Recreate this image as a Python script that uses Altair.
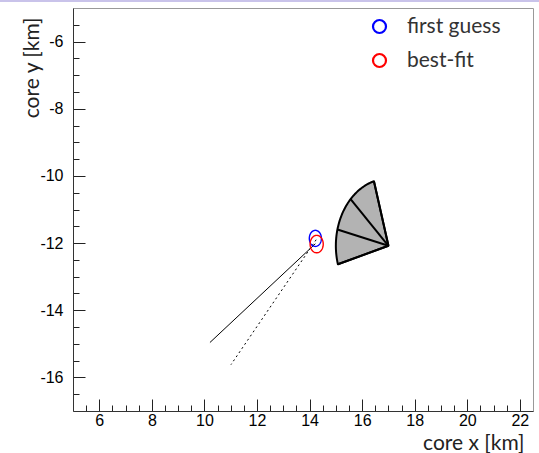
import altair as alt
import numpy as np
import pandas as pd

# ---- axis extents and ticks ----
x_domain = [5, 22.5]
y_domain = [-17, -5]
x_major_ticks = [6, 8, 10, 12, 14, 16, 18, 20, 22]
y_major_ticks = [-16, -14, -12, -10, -8, -6]
x_minor_ticks = [5.5 + 0.5 * i for i in range(34)]
y_minor_ticks = [-16.5 + 0.5 * i for i in range(23)]

# ---- wedge (gray fan) ----
wedge_apex_x = 17.0
wedge_apex_y = -12.08
wedge_radius = 2.0
wedge_edge_angles = [106, 136, 166, 196]  # degrees

# ---- core position fits ----
fit_labels = ["first guess", "best-fit"]
fit_colors = ["#0000ff", "#ff0000"]
fit_center_x = [14.22, 14.27]
fit_center_y = [-11.86, -12.03]
fit_radius_x = [0.23, 0.25]
fit_radius_y = [0.24, 0.26]

# ---- shower axis projections ----
track_start_x = [14.22, 14.25]
track_start_y = [-12.02, -11.90]
track_end_x = [10.21, 11.01]
track_end_y = [-14.96, -15.62]

# ---------------- derived tables ----------------
a0, a1 = np.radians(wedge_edge_angles[0]), np.radians(wedge_edge_angles[-1])
ts = np.linspace(a0, a1, 61)
wedge_df = pd.DataFrame({
    "x": [wedge_apex_x] + list(wedge_apex_x + wedge_radius * np.cos(ts)),
    "y": [wedge_apex_y] + list(wedge_apex_y + wedge_radius * np.sin(ts)),
})
wedge_df["i"] = range(len(wedge_df))

spokes_df = pd.DataFrame({
    "x": [wedge_apex_x] * len(wedge_edge_angles),
    "y": [wedge_apex_y] * len(wedge_edge_angles),
    "x2": [wedge_apex_x + wedge_radius * np.cos(np.radians(a)) for a in wedge_edge_angles],
    "y2": [wedge_apex_y + wedge_radius * np.sin(np.radians(a)) for a in wedge_edge_angles],
})

rows = []
tt = np.linspace(0, 2 * np.pi, 72, endpoint=False)
for k, lab in enumerate(fit_labels):
    for j, t in enumerate(tt):
        rows.append({"label": lab, "i": j,
                     "x": fit_center_x[k] + fit_radius_x[k] * np.cos(t),
                     "y": fit_center_y[k] + fit_radius_y[k] * np.sin(t)})
ell_df = pd.DataFrame(rows)

track_df = pd.DataFrame({"x": track_start_x, "y": track_start_y,
                         "x2": track_end_x, "y2": track_end_y})

# ---------------- scales / axes ----------------
xs = alt.Scale(domain=x_domain, nice=False, zero=False)
ys = alt.Scale(domain=y_domain, nice=False, zero=False)

TICK_FONT = "Liberation Sans"
TITLE_FONT = "Lato"

x_major_axis = alt.Axis(
    orient="bottom", values=x_major_ticks, offset=-12, tickSize=12, tickColor="#222",
    tickWidth=1, domain=False, grid=False, labelFont=TICK_FONT, labelFontSize=16,
    labelColor="#000", labelPadding=1, labelExpr="datum.value + ''",
    title="core x [km]", titleFont=TITLE_FONT, titleFontSize=21, titleFontWeight="normal",
    titleColor="#222", titleAnchor="end", titleAlign="right", titleBaseline="alphabetic",
    titleX=451, titleY=50)
y_major_axis = alt.Axis(
    orient="left", values=y_major_ticks, offset=-12, tickSize=12, tickColor="#222",
    tickWidth=1, domain=False, grid=False, labelFont=TICK_FONT, labelFontSize=16,
    labelColor="#000", labelPadding=10, labelExpr="datum.value + ''",
    title="core y [km]", titleFont=TITLE_FONT, titleFontSize=21, titleFontWeight="normal",
    titleColor="#222", titleAngle=270, titleAnchor="end", titleAlign="right",
    titleBaseline="middle", titleX=-53, titleY=9)
x_minor_axis = alt.Axis(
    orient="bottom", values=x_minor_ticks, offset=-6, tickSize=6, tickColor="#222",
    tickWidth=1, domain=False, grid=False, labels=False, title=None)
y_minor_axis = alt.Axis(
    orient="left", values=y_minor_ticks, offset=-6, tickSize=6, tickColor="#222",
    tickWidth=1, domain=False, grid=False, labels=False, title=None)
x_line_axis = alt.Axis(orient="bottom", ticks=False, labels=False, domain=True,
                       domainColor="#333", domainWidth=1, grid=False, title=None)
y_line_axis = alt.Axis(orient="left", ticks=False, labels=False, domain=True,
                       domainColor="#333", domainWidth=1, grid=False, title=None)

wedge = alt.Chart(wedge_df).mark_line(
    fill="#b3b3b3", stroke="black", strokeWidth=2, interpolate="linear-closed",
    strokeJoin="round").encode(
    x=alt.X("x:Q", scale=xs, axis=x_major_axis),
    y=alt.Y("y:Q", scale=ys, axis=y_major_axis),
    order=alt.Order("i:Q"))

spokes = alt.Chart(spokes_df).mark_rule(color="black", strokeWidth=2).encode(
    x=alt.X("x:Q", scale=xs, axis=x_minor_axis),
    y=alt.Y("y:Q", scale=ys, axis=y_minor_axis),
    x2="x2:Q", y2="y2:Q")

solid = alt.Chart(track_df.iloc[[0]]).mark_rule(color="black", strokeWidth=1).encode(
    x=alt.X("x:Q", scale=xs, axis=x_line_axis),
    y=alt.Y("y:Q", scale=ys, axis=y_line_axis),
    x2="x2:Q", y2="y2:Q")

dotted = alt.Chart(track_df.iloc[[1]]).mark_rule(
    color="black", strokeWidth=1, strokeDash=[2, 3]).encode(
    x=alt.X("x:Q", scale=xs, axis=None),
    y=alt.Y("y:Q", scale=ys, axis=None),
    x2="x2:Q", y2="y2:Q")

ellipses = alt.Chart(ell_df).mark_line(strokeWidth=1.4, interpolate="linear-closed").encode(
    x=alt.X("x:Q", scale=xs, axis=None),
    y=alt.Y("y:Q", scale=ys, axis=None),
    order=alt.Order("i:Q"),
    color=alt.Color("label:N", scale=alt.Scale(domain=fit_labels, range=fit_colors),
                    legend=alt.Legend(
                        title=None, orient="none", legendX=296, legendY=8,
                        symbolType="circle", symbolSize=169, symbolStrokeWidth=2.2,
                        symbolFillColor="transparent", labelFont=TITLE_FONT,
                        labelFontSize=21, labelColor="#333", labelOffset=17,
                        rowPadding=11, padding=0)),
    detail="label:N")

top_line = alt.Chart(pd.DataFrame({"a": [0]})).mark_rule(
    color="#c9c3ea", strokeWidth=2).encode(
    x=alt.value(-73), x2=alt.value(466), y=alt.value(-7))

chart = alt.layer(wedge, spokes, solid, dotted, ellipses, top_line).resolve_axis(
    x="independent", y="independent").properties(
    width=460, height=403,
    autosize=alt.AutoSizeParams(type="none"),
    padding={"left": 73, "top": 8, "right": 6, "bottom": 42},
).configure_view(stroke="#999", strokeWidth=1)

chart.save("out.html", embed_options={"renderer": "svg", "actions": False})
